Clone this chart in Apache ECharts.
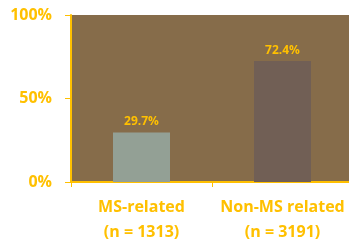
<!DOCTYPE html>
<html>
<head>
<meta charset="utf-8">
<script src="https://cdn.jsdelivr.net/npm/echarts@6/dist/echarts.min.js"></script>
<style>
	html, body { margin: 0; padding: 0; background: #fff; }
	#chart { width: 349px; height: 241px; }
</style>
</head>
<body>
<div id="chart"></div>
<script>
	// 分类与数值
	const categories = ['MS-related\n(n = 1313)', 'Non-MS related\n(n = 3191)']
	const values = [29.7, 72.4]
	const barColors = ['#93A095', '#715F55']
	const yTicks = [0, 50, 100]

	const gold = '#FFC000'
	const chartObj = echarts.init(document.getElementById('chart'))

	chartObj.setOption({
		animation: false,
		textStyle: { fontFamily: 'Open Sans' },
		grid: {
			left: 71,
			right: -4,
			top: 15,
			bottom: 59,
			outerBoundsMode: 'none',
			containLabel: false,
			show: true,
			backgroundColor: '#866C4A',
			borderWidth: 0
		},
		xAxis: {
			type: 'category',
			data: categories,
			axisLine: { lineStyle: { color: gold, width: 2 } },
			axisTick: { show: true, length: 5, lineStyle: { color: gold, width: 1 } },
			axisLabel: {
				interval: 0,
				hideOverlap: false,
				color: gold,
				fontWeight: 'bold',
				fontSize: 16,
				lineHeight: 25,
				margin: 13
			}
		},
		yAxis: {
			type: 'value',
			min: 0,
			max: 100,
			interval: 50,
			splitLine: { show: false },
			axisLine: { show: true, lineStyle: { color: gold, width: 2 } },
			axisTick: { show: true, length: 6, lineStyle: { color: gold, width: 1 } },
			axisLabel: {
				color: gold,
				fontWeight: 'bold',
				fontSize: 16,
				margin: 19,
				formatter: v => (yTicks.includes(v) ? v + '%' : '')
			}
		},
		series: [{
			type: 'bar',
			barWidth: 57,
			data: values.map((v, i) => ({ value: v, itemStyle: { color: barColors[i] } })),
			label: {
				show: true,
				position: 'top',
				distance: 5,
				color: gold,
				fontWeight: 'bold',
				fontSize: 12,
				formatter: p => p.value.toFixed(1) + '%'
			}
		}]
	})
</script>
</body>
</html>
